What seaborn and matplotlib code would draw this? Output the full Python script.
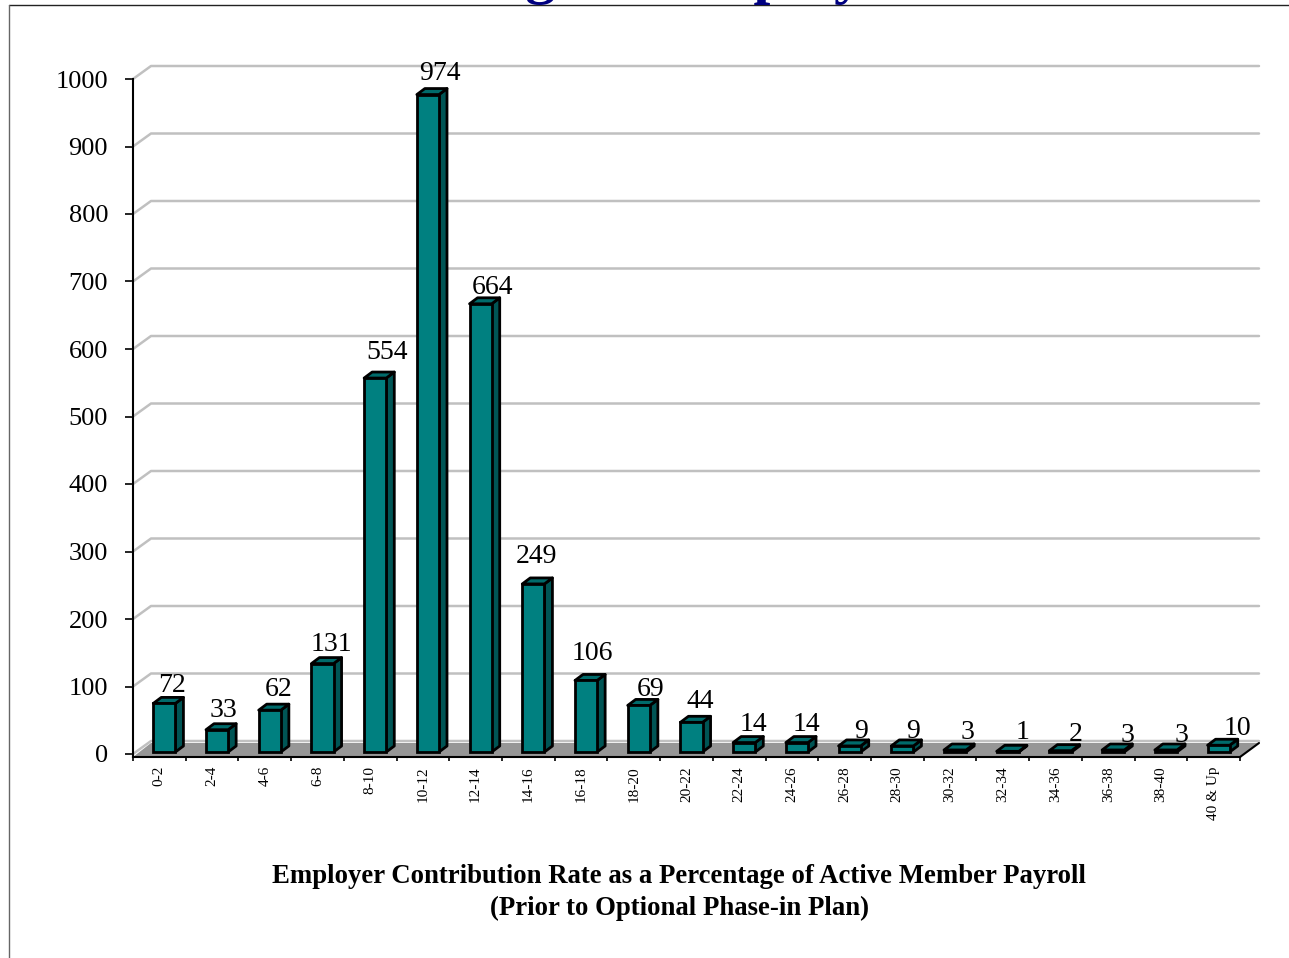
import numpy as np
import pandas as pd
import matplotlib.pyplot as plt
import seaborn as sns
from matplotlib.lines import Line2D
from matplotlib.patches import Polygon
from matplotlib.transforms import Affine2D, IdentityTransform

# Data
categories = ["0-2", "2-4", "4-6", "6-8", "8-10", "10-12", "12-14", "14-16", "16-18", "18-20",
              "20-22", "22-24", "24-26", "26-28", "28-30", "30-32", "32-34", "34-36", "36-38",
              "38-40", "40 & Up"]
employers = [72, 33, 62, 131, 554, 974, 664, 249, 106, 69, 44, 14, 14, 9, 9, 3, 1, 2, 3, 3, 10]
y_ticks = list(range(0, 1001, 100))

# label nudges in pixels (the original labels were hand placed)
label_dx = [8, 6, 9, 9, 12, 12, 12, 3, 6, 12, 9, 9, 9, 11, 11, 12, 15, 15, 14, 16, 19]
label_dy = [-3, -2, -1, -2, 4, 0, -5, 6, 6, -5, -1, -3, -3, -7, -7, -4, -3, -5, -7, -7, -5]

W, H = 1289, 958
TEAL, TEAL_TOP, TEAL_SIDE = "#008080", "#006b6b", "#005555"
GRID = "#c0c0c0"
FLOOR = "#969696"

sns.set_theme(style="white")
plt.rcParams["font.family"] = ["Liberation Serif", "DejaVu Serif"]

fig = plt.figure(figsize=(W / 100, H / 100), dpi=100, facecolor="white")
ax = fig.add_axes([133 / W, (H - 757) / H, (1240 - 133) / W, (757 - 79) / H])

df = pd.DataFrame({"rate": categories, "employers": employers})
sns.barplot(data=df, x="rate", y="employers", color=TEAL, saturation=1, width=0.42,
            edgecolor="black", linewidth=2, ax=ax, zorder=5)

ax.set_xlim(-0.5, len(categories) - 0.5)
ax.set_ylim(-3 / 0.675, 1000)
ax.patch.set_alpha(0)
sns.despine(ax=ax)
ax.spines["left"].set_linewidth(1.5)
ax.spines["bottom"].set_linewidth(1.5)
ax.spines["left"].set_color("black")
ax.spines["bottom"].set_color("black")

ax.set_yticks(y_ticks)
ax.tick_params(axis="y", left=True, length=6, width=1.2, color="black", labelsize=19, pad=12,
               labelcolor="black")
ax.set_xticks(range(len(categories)))
ax.set_xticklabels(categories, rotation=90, fontsize=11, color="black")
ax.tick_params(axis="x", which="major", bottom=False, length=0, pad=6.5)
ax.set_xticks(np.arange(len(categories) + 1) - 0.5, minor=True)
ax.tick_params(axis="x", which="minor", bottom=True, length=3, width=1.2, color="black")

ax.set_ylabel("")
ax.set_xlabel("Employer Contribution Rate as a Percentage of Active Member Payroll\n"
              "(Prior to Optional Phase-in Plan)",
              fontsize=19.25, fontweight="bold", color="black", linespacing=1.38)
ax.xaxis.set_label_coords((679 - 133) / (1240 - 133), -(864 - 757) / (757 - 79))
ax.xaxis.label.set_va("top")

pix = IdentityTransform()


def to_px(x, y):
    return ax.transData.transform((x, y))


# back wall: gridlines with a short diagonal on the side wall
DEPTH_X, DEPTH_Y = 18, 13
right = len(categories) - 0.5
for t in y_ticks:
    x0, y0 = to_px(-0.5, t)
    x1, _ = to_px(right, t)
    ax.add_line(Line2D([x0, x0 + DEPTH_X, x1 + DEPTH_X + 1], [y0, y0 + DEPTH_Y, y0 + DEPTH_Y],
                       transform=pix, color=GRID, lw=1.8, zorder=1, clip_on=False))

# floor
fx0, fy0 = to_px(-0.5, ax.get_ylim()[0])
fx1, _ = to_px(right, 0)
ax.add_patch(Polygon([(fx0, fy0), (fx1, fy0), (fx1 + 19, fy0 + 14), (fx0 + 18, fy0 + 14)],
                     closed=True, transform=pix, facecolor=FLOOR, edgecolor="none", zorder=2,
                     clip_on=False))
ax.add_line(Line2D([fx1, fx1 + 19], [fy0, fy0 + 14], transform=pix, color="black", lw=1.5,
                   zorder=3, clip_on=False))

# 3D look for each bar: move the front face, then add side and top faces
BAR_DX, BAR_DY = 8, 6
shift = Affine2D().translate(5, 2)
for patch, value, dx, dy in zip(ax.patches[:len(employers)], employers, label_dx, label_dy):
    x_mid = patch.get_x() + patch.get_width() / 2
    (xa, ya) = to_px(patch.get_x(), 0)
    (xb, yb) = to_px(patch.get_x() + patch.get_width(), value)
    xa, xb, ya, yb = xa + 5, xb + 5, ya + 2, yb + 2
    patch.set_transform(ax.transData + shift)
    patch.set_clip_on(False)
    side = [(xb, ya), (xb + BAR_DX, ya + BAR_DY), (xb + BAR_DX, yb + BAR_DY), (xb, yb)]
    top = [(xa, yb), (xa + BAR_DX, yb + BAR_DY), (xb + BAR_DX, yb + BAR_DY), (xb, yb)]
    ax.add_patch(Polygon(side, closed=True, transform=pix, facecolor=TEAL_SIDE, edgecolor="black",
                         lw=2, zorder=4, clip_on=False, joinstyle="round"))
    ax.add_patch(Polygon(top, closed=True, transform=pix, facecolor=TEAL_TOP, edgecolor="black",
                         lw=2, zorder=4, clip_on=False, joinstyle="round"))
    ax.annotate(str(value), (x_mid, value), xycoords="data",
                xytext=((5 + dx) * 0.72, (22 + dy) * 0.72 + 1), textcoords="offset points",
                ha="center", va="center", fontsize=20, color="black", zorder=6,
                annotation_clip=False)

# title runs off the top of the page in the source, only its descenders show
fig.text(418 / W, 1 + 8 / H, "Range of Employers", fontsize=43.5, fontweight="bold",
         color="#000080", ha="left", va="baseline")

# page frame
fig.add_artist(Line2D([9, W], [H - 5, H - 5], transform=pix, color="#222222", lw=1))
fig.add_artist(Line2D([9, 9], [H - 5, 0], transform=pix, color="#666666", lw=1))

fig.savefig("out.png", dpi=100)
